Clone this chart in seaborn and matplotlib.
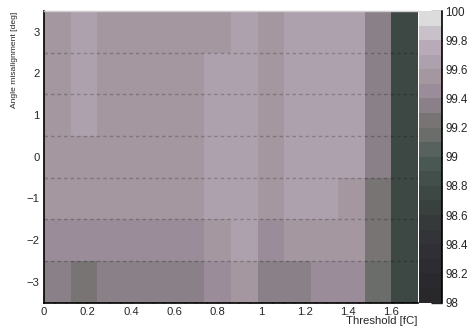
import numpy as np
import pandas as pd
import matplotlib
matplotlib.use("Agg")
import matplotlib.pyplot as plt
from matplotlib.colors import ListedColormap, BoundaryNorm
from matplotlib.ticker import MultipleLocator, FixedLocator
import seaborn as sns

# ---- data ----
threshold_edges = [0.0, 0.123, 0.246, 0.369, 0.492, 0.615, 0.738, 0.861,
                   0.984, 1.107, 1.23, 1.353, 1.476, 1.599, 1.722]
thresholds = [0.0615, 0.1845, 0.3075, 0.4305, 0.5535, 0.6765, 0.7995,
              0.9225, 1.0455, 1.1685, 1.2915, 1.4145, 1.5375, 1.6605]
angle_edges = [-3.5, -2.5, -1.5, -0.5, 0.5, 1.5, 2.5, 3.5]
angles = [3, 2, 1, 0, -1, -2, -3]
eff_p3 = [99.55, 99.65, 99.55, 99.55, 99.55, 99.55, 99.55, 99.65, 99.55, 99.65, 99.65, 99.65, 99.35, 98.75]
eff_p2 = [99.55, 99.65, 99.55, 99.55, 99.55, 99.55, 99.65, 99.65, 99.55, 99.65, 99.65, 99.65, 99.35, 98.75]
eff_p1 = [99.55, 99.65, 99.55, 99.55, 99.55, 99.55, 99.65, 99.65, 99.55, 99.65, 99.65, 99.65, 99.35, 98.75]
eff_0 = [99.55, 99.55, 99.55, 99.55, 99.55, 99.55, 99.65, 99.65, 99.55, 99.65, 99.65, 99.65, 99.35, 98.75]
eff_m1 = [99.55, 99.55, 99.55, 99.55, 99.55, 99.55, 99.65, 99.65, 99.55, 99.65, 99.65, 99.55, 99.25, 98.75]
eff_m2 = [99.45, 99.45, 99.45, 99.45, 99.45, 99.45, 99.55, 99.65, 99.45, 99.55, 99.55, 99.55, 99.25, 98.75]
eff_m3 = [99.35, 99.25, 99.35, 99.35, 99.35, 99.35, 99.45, 99.55, 99.35, 99.35, 99.45, 99.45, 99.15, 98.75]
rows = [eff_p3, eff_p2, eff_p1, eff_0, eff_m1, eff_m2, eff_m3]
x_ticks = [0, 0.2, 0.4, 0.6, 0.8, 1.0, 1.2, 1.4, 1.6]
x_ticklabels = ["0", "0.2", "0.4", "0.6", "0.8", "1", "1.2", "1.4", "1.6"]
y_ticks = [-3, -2, -1, 0, 1, 2, 3]
y_ticklabels = ["\u22123", "\u22122", "\u22121", "0", "1", "2", "3"]
cbar_ticks = [98, 98.2, 98.4, 98.6, 98.8, 99, 99.2, 99.4, 99.6, 99.8, 100]
cbar_ticklabels = ["98", "98.2", "98.4", "98.6", "98.8", "99", "99.2", "99.4", "99.6", "99.8", "100"]
level_bounds = [98.0, 98.1, 98.2, 98.3, 98.4, 98.5, 98.6, 98.7, 98.8, 98.9, 99.0,
                99.1, 99.2, 99.3, 99.4, 99.5, 99.6, 99.7, 99.8, 99.9, 100.0]
level_colors = ["#28282a", "#2a2a2e", "#2c2c32", "#2f2f35", "#323437", "#35393a",
                "#39413f", "#3d4844", "#424f4b", "#4a5853", "#57615d", "#6b6d6b",
                "#787474", "#8a8088", "#9a8d99", "#a4979f", "#aea1ae", "#b9aab8",
                "#c9c1c9", "#dcdcdc"]

records = []
for ang, vals in zip(angles, rows):
    for th, v in zip(thresholds, vals):
        records.append({"threshold": th, "angle": ang, "eff": v})
df = pd.DataFrame(records)

sns.set_style("white")
plt.rcParams["font.family"] = ["Liberation Sans", "DejaVu Sans"]

W, H = 469, 328
fig = plt.figure(figsize=(W / 100, H / 100), dpi=100)
ax = fig.add_axes([44 / W, 1 - 302.5 / H, (418 - 44) / W, (302.5 - 11) / H])
cax = fig.add_axes([419.3 / W, 1 - 302.5 / H, (442.3 - 419.3) / W, (302.5 - 11) / H])

cmap = ListedColormap(level_colors)
norm = BoundaryNorm(level_bounds, cmap.N)

sns.histplot(data=df, x="threshold", y="angle", weights="eff",
             bins=[threshold_edges, angle_edges], thresh=None, ax=ax,
             cbar=False)
mesh = ax.collections[0]
mesh.set_cmap(cmap)
mesh.set_norm(norm)
mesh.set_edgecolor("face")
mesh.set_linewidth(0)

# dotted separators
for yb in angle_edges[1:-1]:
    ax.axhline(yb, color="black", alpha=0.22, lw=1.0, linestyle=(0, (2.5, 2.2)))

ax.set_xlim(0, 1.722)
ax.set_ylim(-3.5, 3.5)
ax.set_xlabel("")
ax.set_ylabel("")
ax.xaxis.set_major_locator(FixedLocator(x_ticks))
ax.set_xticklabels(x_ticklabels)
ax.xaxis.set_minor_locator(MultipleLocator(0.05))
ax.yaxis.set_major_locator(FixedLocator(y_ticks))
ax.set_yticklabels(y_ticklabels)
ax.tick_params(axis="x", which="major", direction="in", length=6, width=1.0,
               color="#222222", labelsize=8.1, pad=3, bottom=True)
ax.tick_params(axis="x", which="minor", direction="in", length=3, width=1.0,
               color="#222222", bottom=True)
ax.tick_params(axis="y", which="major", direction="in", length=9, width=1.2,
               color="#222222", labelsize=8.1, pad=3, left=True)
ax.tick_params(axis="y", which="minor", left=False)
for s in ["left", "bottom"]:
    ax.spines[s].set_visible(True)
    ax.spines[s].set_color("black")
    ax.spines[s].set_linewidth(1.2)
ax.spines["top"].set_color("#cfcbcf")
ax.spines["top"].set_linewidth(1.0)
ax.spines["right"].set_visible(False)

cb = fig.colorbar(mesh, cax=cax, ticks=cbar_ticks)
cb.outline.set_visible(False)
cb.set_ticklabels(cbar_ticklabels)
cax.tick_params(direction="in", length=8, width=1.0, color="#222222",
                labelsize=8.4, pad=2)
cax.minorticks_off()
cax.plot([1, 1], [0, 1], transform=cax.transAxes, color="black", lw=1.2,
         clip_on=False)

fig.text(417.5 / W, 1 - 321 / H, "Threshold [fC]", ha="right", va="center",
         fontsize=8.2)
fig.text(14.0 / W, 1 - 12 / H, "Angle misalignment [deg]", ha="center",
         va="top", rotation=90, fontsize=6.1)

fig.savefig("out.png", dpi=100)
